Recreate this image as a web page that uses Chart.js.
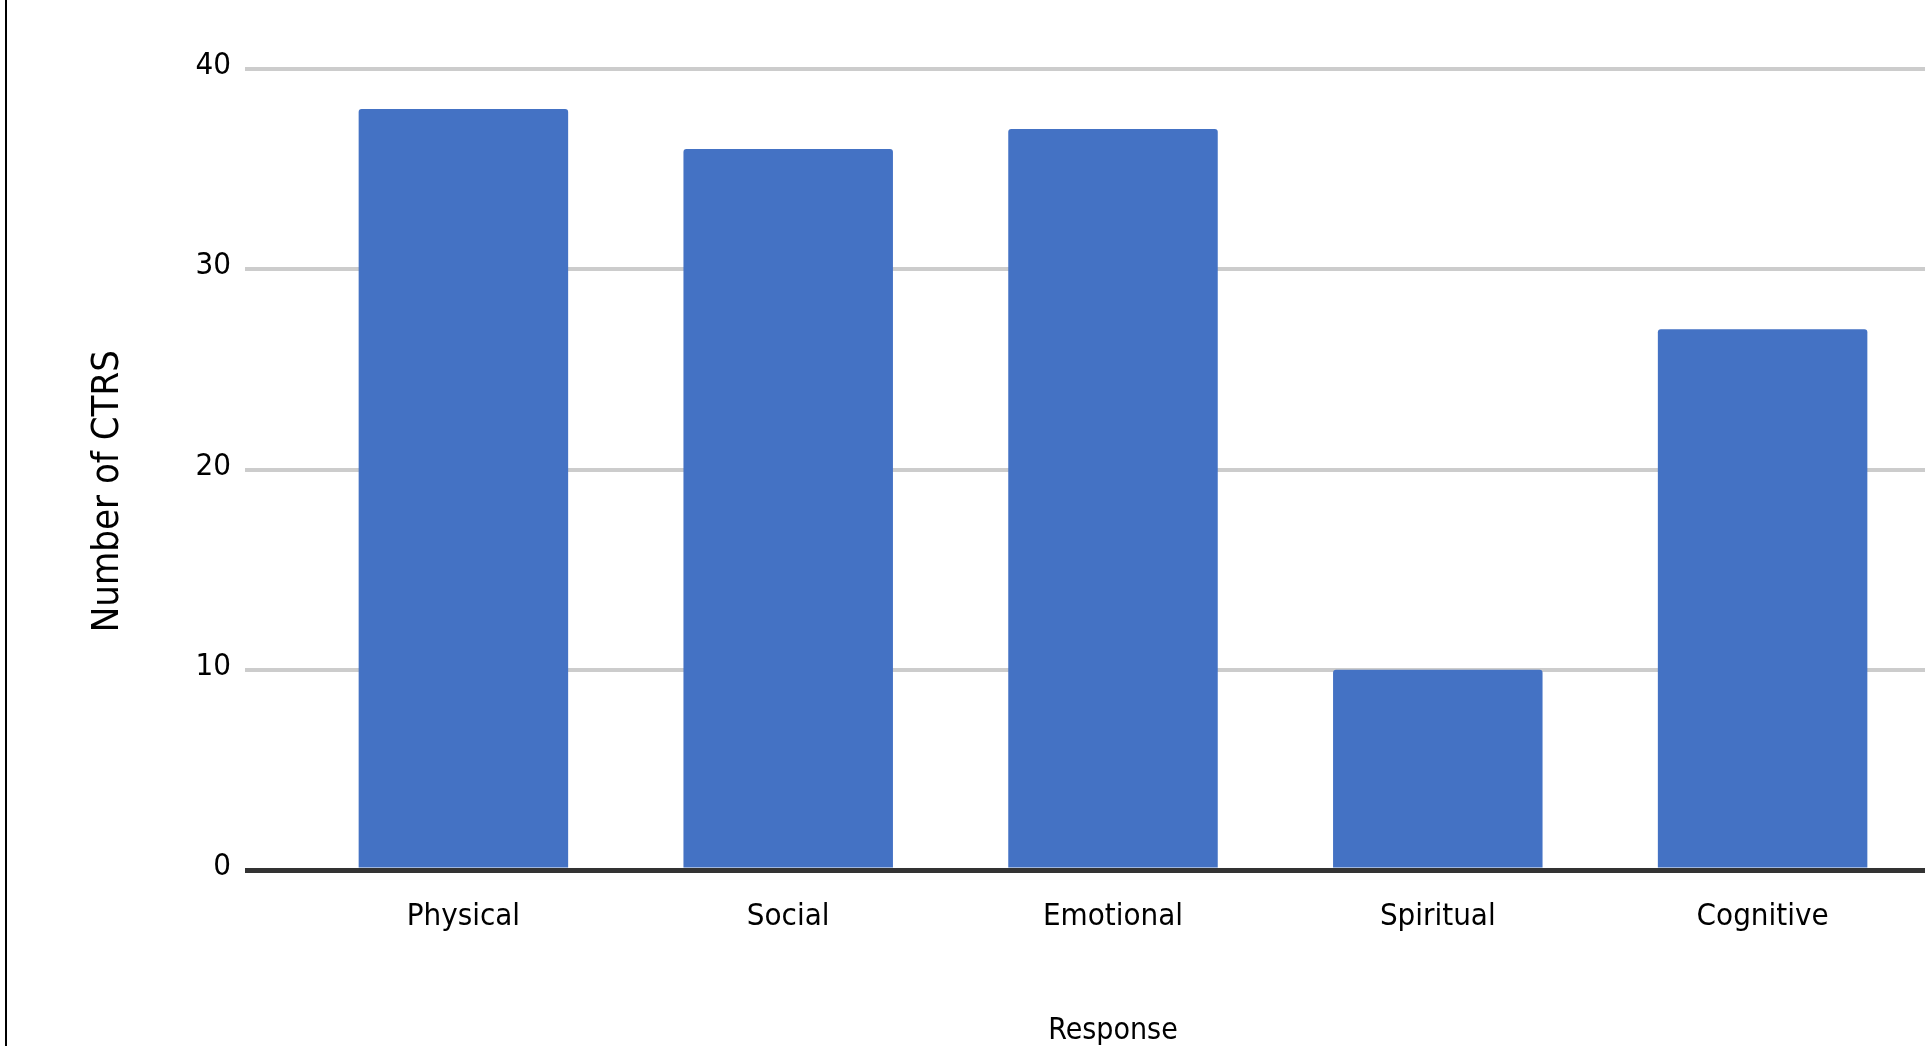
<!DOCTYPE html>
<html>
<head>
<meta charset="utf-8">
<title>Number of CTRS by response</title>
<script src="https://cdn.jsdelivr.net/npm/chart.js@4/dist/chart.umd.min.js"></script>
<style>
  html, body { margin: 0; padding: 0; background: #fff; }
  #wrap { position: relative; width: 1925px; height: 1046px; }
  #edge { position: absolute; left: 5px; top: 0; width: 2px; height: 1046px; background: #000; }
</style>
</head>
<body>
<div id="wrap">
  <canvas id="chart1"></canvas>
  <div id="edge"></div>
</div>
<script>
const categories = ['Physical', 'Social', 'Emotional', 'Spiritual', 'Cognitive'];
const counts = [38, 36, 37, 10, 27];
const yMin = 0;
const yMax = 40;
const yStep = 10;

const fontFamily = "'Liberation Sans Narrow', 'DejaVu Sans Condensed', 'Liberation Sans', sans-serif";

const config = {
  type: 'bar',
  data: {
    labels: categories,
    datasets: [{
      label: 'Number of CTRS',
      data: counts,
      backgroundColor: '#4472c4',
      borderRadius: 3,
      categoryPercentage: 1,
      barPercentage: 0.645,
    }],
  },
  options: {
    responsive: true,
    maintainAspectRatio: false,
    animation: false,
    layout: { padding: { top: 69, left: 0, right: 0, bottom: 0 } },
    plugins: {
      legend: { display: false },
      tooltip: { enabled: false },
    },
    scales: {
      x: {
        grid: { display: false },
        border: { display: false },
        ticks: {
          color: '#000',
          padding: 20,
          font: { family: fontFamily, size: 31 },
        },
        title: {
          display: true,
          text: 'Response',
          color: '#000',
          padding: 0,
          font: { family: fontFamily, size: 30, lineHeight: 1 },
        },
        afterFit: (scale) => { scale.height = 176; },
      },
      y: {
        min: yMin,
        max: yMax,
        border: { display: false },
        grid: {
          color: (ctx) => (ctx.tick && ctx.tick.value === 0 ? '#333333' : '#cccccc'),
          lineWidth: (ctx) => (ctx.tick && ctx.tick.value === 0 ? 5 : 4),
          drawTicks: true,
          tickLength: 56,
        },
        ticks: {
          stepSize: yStep,
          color: '#000',
          padding: 14,
          labelOffset: -3,
          font: { family: fontFamily, size: 31 },
        },
        title: {
          display: true,
          text: 'Number of CTRS\u00a0\u00a0\u00a0\u00a0',
          color: '#000',
          padding: { top: 89, bottom: 0 },
          font: { family: fontFamily, size: 38, lineHeight: 1 },
        },
        afterFit: (scale) => { scale.width = 301; },
      },
    },
  },
};

var myChart = new Chart(document.getElementById('chart1'), config);
</script>
</body>
</html>
